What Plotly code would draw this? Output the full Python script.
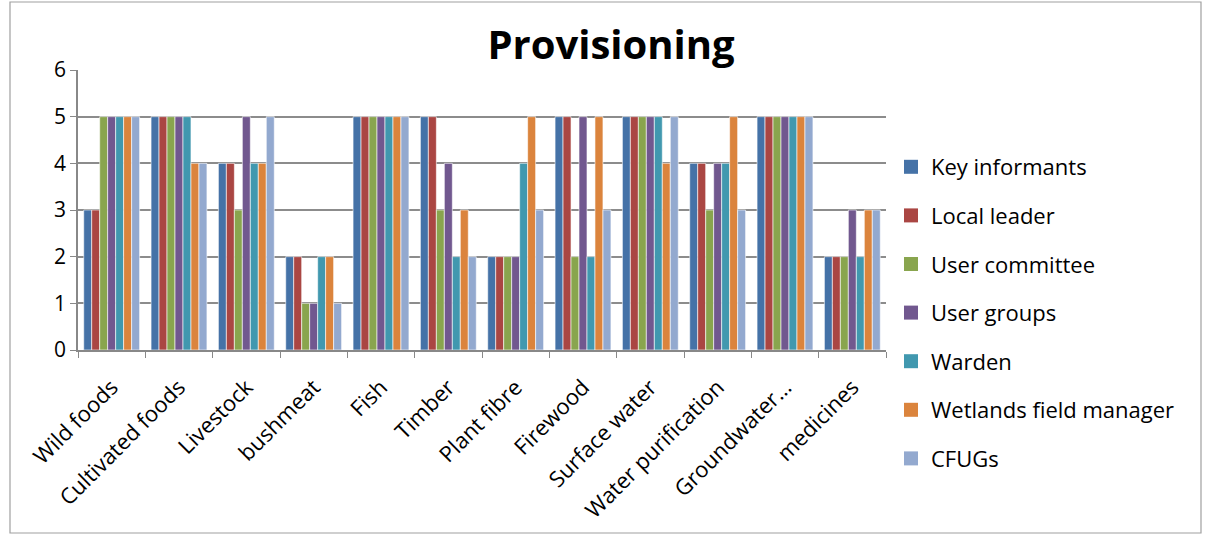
import plotly.graph_objects as go

categories = ["Wild foods", "Cultivated foods", "Livestock", "bushmeat", "Fish", "Timber",
              "Plant fibre", "Firewood", "Surface water", "Water purification",
              "Groundwater…", "medicines"]

key_informants = [3, 5, 4, 2, 5, 5, 2, 5, 5, 4, 5, 2]
local_leader = [3, 5, 4, 2, 5, 5, 2, 5, 5, 4, 5, 2]
user_committee = [5, 5, 3, 1, 5, 3, 2, 2, 5, 3, 5, 2]
user_groups = [5, 5, 5, 1, 5, 4, 2, 5, 5, 4, 5, 3]
warden = [5, 5, 4, 2, 5, 2, 4, 2, 5, 4, 5, 2]
wetlands_manager = [5, 4, 4, 2, 5, 3, 5, 5, 4, 5, 5, 3]
cfugs = [5, 4, 5, 1, 5, 2, 3, 3, 5, 3, 5, 3]

series = [
    ("Key informants", key_informants, "#4572A7"),
    ("Local leader", local_leader, "#AA4643"),
    ("User committee", user_committee, "#89A54E"),
    ("User groups", user_groups, "#71588F"),
    ("Warden", warden, "#4198AF"),
    ("Wetlands field manager", wetlands_manager, "#DB843D"),
    ("CFUGs", cfugs, "#93A9CF"),
]

FONT = "Open Sans, Liberation Sans, sans-serif"

fig = go.Figure()
for i, (name, vals, color) in enumerate(series):
    fig.add_trace(go.Bar(
        x=categories, y=vals, name=name,
        marker=dict(color=color, line=dict(color="white", width=0.6)),
        legendgroup=str(i), showlegend=False,
    ))
    # legend entry with a larger square swatch
    fig.add_trace(go.Scatter(
        x=[None], y=[None], mode="markers", name=name,
        marker=dict(symbol="square", size=14, color=color),
        legendgroup=str(i), showlegend=True, hoverinfo="skip",
    ))

# plot area in pixels
L, R, T, B = 78, 886, 70, 350
W, H = 1206, 535
pw, ph = R - L, B - T

def px_x(x):
    return (x - L) / pw

def px_y(y):
    return (B - y) / ph

fig.update_layout(
    width=W, height=H,
    margin=dict(l=L, r=W - R, t=T, b=H - B, autoexpand=False),
    paper_bgcolor="white", plot_bgcolor="white",
    barmode="group", bargap=0.17, bargroupgap=0,
    font=dict(family=FONT, size=21, color="black"),
    title=dict(text="<b>Provisioning</b>", x=611 / W, xanchor="center",
               y=1 - 45 / H, yanchor="middle",
               font=dict(family=FONT, size=40, color="black")),
    showlegend=True,
    legend=dict(x=px_x(891), y=px_y(146), xanchor="left", yanchor="top",
                font=dict(family=FONT, size=22, color="black"),
                tracegroupgap=17, itemwidth=30, maxheight=450,
                bgcolor="rgba(0,0,0,0)"),
    xaxis=dict(type="category", tickson="boundaries", ticks="outside", ticklen=6,
               tickcolor="#888888", showline=True, linecolor="#888888", linewidth=1.5,
               tickangle=-45, showgrid=False, ticklabelstandoff=14,
               tickfont=dict(family=FONT, size=22, color="black")),
    yaxis=dict(range=[0, 6], dtick=1, showgrid=True, gridcolor="#8c8c8c", gridwidth=1.5,
               showline=True, linecolor="#888888", linewidth=1.5, ticks="outside",
               ticklen=6, tickcolor="#888888", zeroline=False,
               tickfont=dict(family=FONT, size=21, color="black")),
    shapes=[dict(type="rect", xref="paper", yref="paper",
                 x0=px_x(10), x1=px_x(1201), y0=px_y(533), y1=px_y(2),
                 line=dict(color="#a0a0a0", width=1.2), fillcolor="rgba(0,0,0,0)",
                 layer="below")],
)

fig.write_html("out.html")
